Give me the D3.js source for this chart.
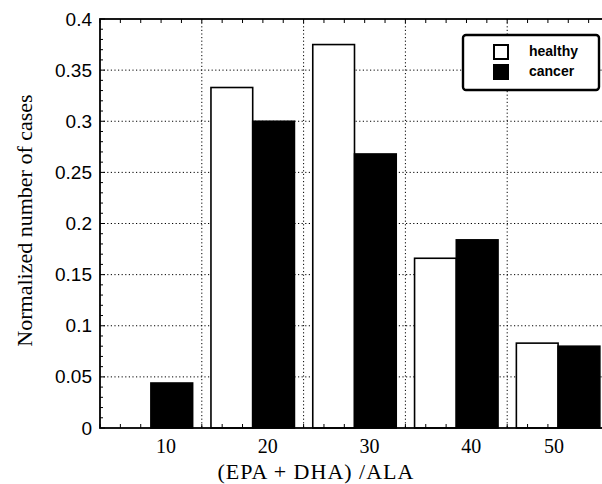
<!DOCTYPE html>
<html>
<head>
<meta charset="utf-8">
<script src="https://cdn.jsdelivr.net/npm/d3@7"></script>
<style>
  html, body { margin: 0; padding: 0; background: #fff; }
  svg { display: block; }
  .yaxis .tick text { font-family: "Liberation Sans", Arial, sans-serif; font-size: 19px; fill: #000; }
  .xaxis .tick text { font-family: "Liberation Serif", "Times New Roman", serif; font-size: 20px; fill: #000; }
</style>
</head>
<body>
<svg id="chart" width="602" height="484"></svg>
<script>
"use strict";

// bins of (EPA + DHA)/ALA and the normalized number of cases
const categories = [ '10', '20', '30', '40', '50' ];
const healthy    = [ 0,     0.333, 0.375, 0.166, 0.083 ];
const cancer     = [ 0.044, 0.300, 0.268, 0.184, 0.080 ];
const series     = [ 'healthy', 'cancer' ];
const yTicks     = [ 0, 0.05, 0.1, 0.15, 0.2, 0.25, 0.3, 0.35, 0.4 ];

const width  = 602,
      height = 484;

const margin = { top: 19, left: 100, bottom: 56 };
const plotW  = 509,   // axes run slightly past the right edge of the picture
      plotH  = height - margin.top - margin.bottom;

const svg = d3.select( '#chart' )
  .append( 'g' )
    .attr( 'transform', `translate(${margin.left}, ${margin.top})` );

// bin index -> x
const x = d3.scaleLinear()
            .domain( [ 0, categories.length ] )
            .range( [ 0, plotW ] );

const y = d3.scaleLinear()
            .domain( [ 0, 0.4 ] )
            .range( [ plotH, 0 ] );

const barW  = 0.41;   // in bin units
const color = d3.scaleOrdinal().domain( series ).range( [ '#fff', '#000' ] );

// dotted grid
const grid = svg.append( 'g' ).attr( 'class', 'grid' )
  .attr( 'stroke', '#000' )
  .attr( 'stroke-width', 1 )
  .attr( 'stroke-dasharray', '1.2,2.4' );

grid.selectAll( 'line.h' )
  .data( yTicks.slice( 1, -1 ) )
  .enter().append( 'line' )
    .attr( 'class', 'h' )
    .attr( 'x1', 0 ).attr( 'x2', plotW )
    .attr( 'y1', d => y( d ) ).attr( 'y2', d => y( d ) );

grid.selectAll( 'line.v' )
  .data( d3.range( 1, categories.length ) )
  .enter().append( 'line' )
    .attr( 'class', 'v' )
    .attr( 'y1', 0 ).attr( 'y2', plotH )
    .attr( 'x1', d => x( d ) ).attr( 'x2', d => x( d ) );

// bars: healthy left of bin centre, cancer right of it
const rows = categories.map( (c,i) => ({ i, values: [ healthy[i], cancer[i] ] }) );

svg.append( 'g' ).attr( 'class', 'bars' )
  .selectAll( 'g' )
  .data( rows )
  .enter().append( 'g' )
  .selectAll( 'rect' )
    .data( d => d.values.map( (v,k) => ({ i: d.i, k, v }) ).filter( d => d.v > 0 ) )
  .enter().append( 'rect' )
    .attr( 'x',      d => x( d.i + 0.5 + (d.k - 1) * barW ) )
    .attr( 'width',  d => x( barW ) - x( 0 ) )
    .attr( 'y',      d => y( d.v ) )
    .attr( 'height', d => y( 0 ) - y( d.v ) )
    .attr( 'fill',   d => color( series[ d.k ] ) )
    .attr( 'stroke', '#000' )
    .attr( 'stroke-width', 1.6 );

// minor ticks along the frame
const minor = svg.append( 'g' ).attr( 'class', 'minor' )
  .attr( 'stroke', '#000' ).attr( 'stroke-width', 1 );

const yMinor = d3.range( 0, 41 ).map( d => d / 100 );
minor.selectAll( 'line.ym' )
  .data( yMinor )
  .enter().append( 'line' )
    .attr( 'x1', 0 ).attr( 'x2', d => (Math.round( d * 100 ) % 5 === 0) ? 5 : 3 )
    .attr( 'y1', d => y( d ) ).attr( 'y2', d => y( d ) );

const xMinor = d3.range( 0, categories.length * 5 + 1 ).map( d => d / 5 );
minor.selectAll( 'line.xt' )
  .data( xMinor )
  .enter().append( 'line' )
    .attr( 'y1', 0 ).attr( 'y2', 4 )
    .attr( 'x1', d => x( d ) ).attr( 'x2', d => x( d ) );
minor.selectAll( 'line.xb' )
  .data( xMinor )
  .enter().append( 'line' )
    .attr( 'y1', plotH ).attr( 'y2', plotH - 4 )
    .attr( 'x1', d => x( d ) ).attr( 'x2', d => x( d ) );

// frame
svg.append( 'rect' )
  .attr( 'width', plotW ).attr( 'height', plotH )
  .attr( 'fill', 'none' )
  .attr( 'stroke', '#000' )
  .attr( 'stroke-width', 1.8 );

// y axis labels
svg.append( 'g' )
  .attr( 'class', 'yaxis' )
  .call( d3.axisLeft( y ).tickValues( yTicks ).tickSize( 0 ).tickPadding( 8 )
           .tickFormat( d => String( +d.toFixed( 2 ) ) ) )
  .call( g => g.select( '.domain' ).remove() );

// x axis labels, shifted right of the bin centre; the last one kept inside the picture
const labelShift = 15,
      labelMaxX  = width - margin.left - 48;
svg.append( 'g' )
  .attr( 'class', 'xaxis' )
  .attr( 'transform', `translate(0, ${plotH})` )
  .call( d3.axisBottom( x ).tickValues( d3.range( categories.length ).map( i => i + 0.5 ) )
           .tickSize( 0 ).tickPadding( 11 )
           .tickFormat( (d,i) => categories[ i ] ) )
  .call( g => g.select( '.domain' ).remove() )
  .selectAll( '.tick' )
    .attr( 'transform', d => `translate(${Math.min( x( d ) + labelShift, labelMaxX )}, 0)` );

// axis titles
svg.append( 'text' )
  .attr( 'x', 216 ).attr( 'y', plotH + 51 )
  .attr( 'text-anchor', 'middle' )
  .style( 'font-family', '"Liberation Serif", "Times New Roman", serif' )
  .style( 'font-size', '22px' )
  .style( 'letter-spacing', '1px' )
  .text( '(EPA + DHA) /ALA' );

svg.append( 'text' )
  .attr( 'transform', `translate(-68, ${plotH / 2 - 3}) rotate(-90)` )
  .attr( 'text-anchor', 'middle' )
  .style( 'font-family', '"Liberation Serif", "Times New Roman", serif' )
  .style( 'font-size', '22px' )
  .text( 'Normalized number of cases' );

// legend
const legend = svg.append( 'g' )
  .attr( 'transform', `translate(363, 16)` );

legend.append( 'rect' )
  .attr( 'width', 136 ).attr( 'height', 55 )
  .attr( 'rx', 3 )
  .attr( 'fill', '#fff' )
  .attr( 'stroke', '#000' )
  .attr( 'stroke-width', 2.4 );

const item = legend.selectAll( 'g' )
  .data( series )
  .enter().append( 'g' )
    .attr( 'transform', (d,i) => `translate(31, ${10 + i * 20})` );

item.append( 'rect' )
  .attr( 'width', 14 ).attr( 'height', 14 )
  .attr( 'fill', d => color( d ) )
  .attr( 'stroke', '#000' )
  .attr( 'stroke-width', 2 );

item.append( 'text' )
  .attr( 'x', 35 ).attr( 'y', 11 )
  .style( 'font-family', '"Liberation Sans", Arial, sans-serif' )
  .style( 'font-weight', 'bold' )
  .style( 'font-size', '14px' )
  .text( d => d );
</script>
</body>
</html>
